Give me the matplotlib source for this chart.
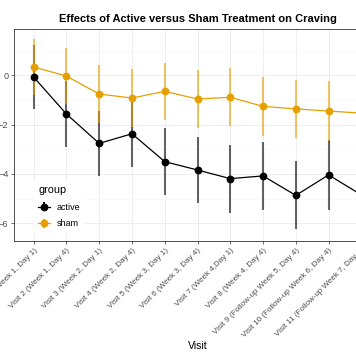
import matplotlib.pyplot as plt
from matplotlib.ticker import MultipleLocator

# =====================================================================
# Data
# =====================================================================
visits = [
    "Visit 1 (Week 1, Day 1)",
    "Visit 2 (Week 1, Day 4)",
    "Visit 3 (Week 2, Day 1)",
    "Visit 4 (Week 2, Day 4)",
    "Visit 5 (Week 3, Day 1)",
    "Visit 6 (Week 3, Day 4)",
    "Visit 7 (Week 4,Day 1)",
    "Visit 8 (Week 4, Day 4)",
    "Visit 9 (Follow-up Week 5, Day 4)",
    "Visit 10 (Follow-up Week 6, Day 4)",
    "Visit 11 (Follow-up Week 7, Day 4)",
]
active_mean = [-0.07, -1.57, -2.76, -2.37, -3.50, -3.84, -4.19, -4.08, -4.87, -4.04, -4.85]
active_err = [1.31, 1.33, 1.33, 1.34, 1.37, 1.35, 1.38, 1.38, 1.38, 1.42, 1.40]
sham_mean = [0.34, -0.03, -0.76, -0.92, -0.65, -0.96, -0.89, -1.26, -1.36, -1.45, -1.53]
sham_err = [1.12, 1.13, 1.17, 1.18, 1.17, 1.16, 1.17, 1.19, 1.17, 1.21, 1.20]

groups = ["active", "sham"]
colors = {"active": "black", "sham": "#E69F00"}

FONT = "Liberation Sans"
plt.rcParams["font.family"] = [FONT, "DejaVu Sans"]

W, H = 356, 364
fig = plt.figure(figsize=(W / 100, H / 100), dpi=100)

# panel deliberately runs past the right edge, as in the cropped reference
left, right, top, bottom = 14, 381, 29, 241
ax = fig.add_axes([left / W, 1 - bottom / H, (right - left) / W, (bottom - top) / H])

x = list(range(1, len(visits) + 1))
handles = []
for g, m, e in [("active", active_mean, active_err), ("sham", sham_mean, sham_err)]:
    c = colors[g]
    ax.errorbar(x, m, yerr=e, fmt="none", ecolor=c, elinewidth=1.5, alpha=0.6,
                capsize=0, zorder=3)
    ax.plot(x, m, color=c, lw=0.9, zorder=4)
    ax.plot(x, m, "o", color=c, ms=4.6, zorder=5)
    h = ax.errorbar([], [], yerr=[], fmt="-o", color=c, ms=4.6, lw=0.9,
                    elinewidth=1.5, capsize=0)
    handles.append(h)

ax.set_xlim(0.4, len(visits) + 0.6)
ax.set_ylim(-6.72, 1.88)
ax.set_xticks(x)
ax.set_xticklabels(visits, rotation=45, ha="right", rotation_mode="anchor",
                   fontsize=5.8, color="#4d4d4d")
ax.yaxis.set_major_locator(MultipleLocator(2))
ax.yaxis.set_minor_locator(MultipleLocator(1))
ax.tick_params(axis="y", labelsize=6.6, labelcolor="#4d4d4d", color="#333333",
               length=2.5, width=0.5, pad=1.5)
ax.tick_params(axis="x", color="#333333", length=2.5, width=0.5, pad=1.5)
ax.tick_params(axis="y", which="minor", length=0)
ax.yaxis.set_major_formatter(plt.FuncFormatter(lambda v, p: f"{int(v)}".replace("-", "\u2212")))

ax.grid(True, which="major", color="#ebebeb", lw=0.6, zorder=0)
ax.grid(True, which="minor", axis="y", color="#f5f5f5", lw=0.4, zorder=0)
ax.set_axisbelow(True)
for s in ax.spines.values():
    s.set_color("#333333")
    s.set_linewidth(0.6)

leg = ax.legend(handles, groups, title="group", loc="upper left",
                bbox_to_anchor=(29 / W, 1 - 176 / H), bbox_transform=fig.transFigure,
                fontsize=6.5, title_fontsize=7.8, frameon=True, handlelength=1.3,
                handletextpad=0.8, labelspacing=0.85, borderpad=0.5)
leg.get_frame().set_facecolor("white")
leg.get_frame().set_edgecolor("none")
leg.get_frame().set_alpha(1)
leg._legend_box.align = "left"

fig.text((left + right) / 2 / W, 1 - 19 / H,
         "Effects of Active versus Sham Treatment on Craving",
         ha="center", va="center", fontsize=8.0, fontweight="bold")
fig.text((left + right) / 2 / W, 1 - 346 / H, "Visit", ha="center", va="center",
         fontsize=7.6)

fig.savefig("out.png", dpi=100)
